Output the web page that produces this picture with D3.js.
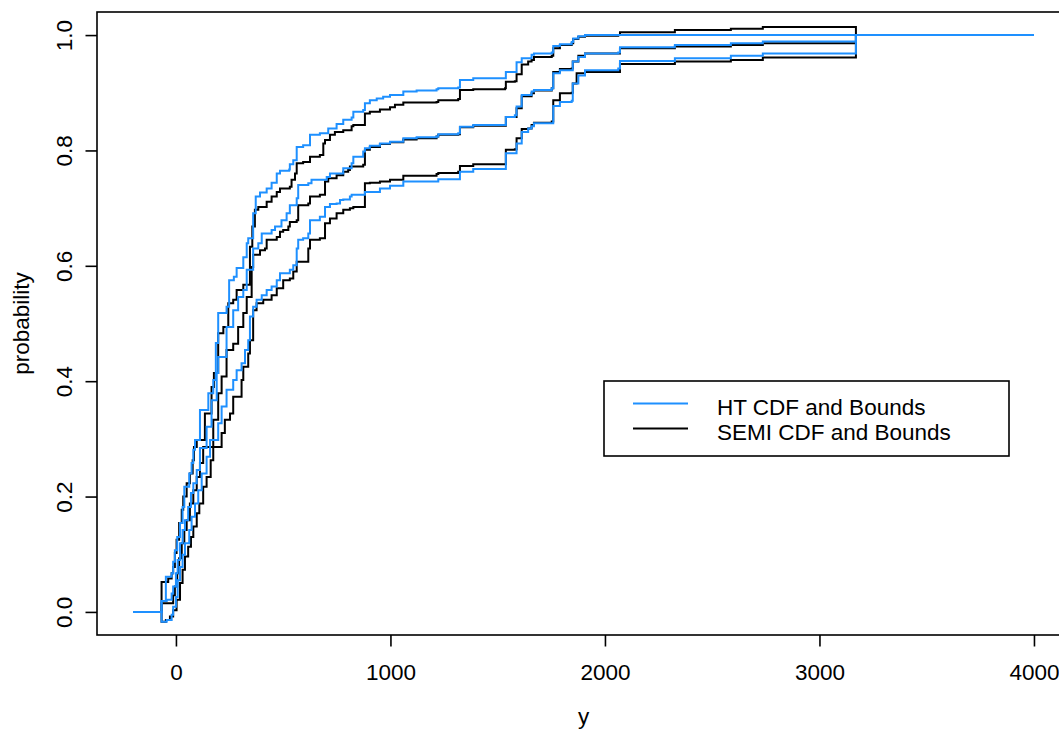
<!DOCTYPE html>
<html>
<head>
<meta charset="utf-8">
<script src="https://cdn.jsdelivr.net/npm/d3@7"></script>
<style>
  body { margin: 0; background: #fff; }
  text { font-family: "Liberation Sans", Arial, Helvetica, sans-serif; font-size: 22.5px; fill: #000; }
</style>
</head>
<body>
<svg id="canvas"></svg>
<script>
// step points [x, level after the jump]
let htUpper = [[-200,0],[-67,0.019],[-47,0.061],[-20,0.067],[-13,0.087],[-5,0.107],[6,0.130],[19,0.154],[31,0.182],[39,0.217],[62,0.240],[73,0.258],[81,0.281],[89,0.298],[112,0.350],[151,0.379],[174,0.402],[186,0.466],[197,0.518],[236,0.529],[248,0.575],[270,0.581],[283,0.596],[314,0.615],[330,0.639],[337,0.648],[360,0.691],[372,0.720],[392,0.727],[423,0.734],[446,0.744],[470,0.760],[485,0.765],[528,0.767],[531,0.776],[547,0.783],[563,0.806],[593,0.809],[625,0.827],[671,0.830],[710,0.838],[749,0.846],[780,0.853],[819,0.857],[827,0.867],[873,0.870],[881,0.882],[904,0.887],[936,0.890],[966,0.893],[998,0.896],[1060,0.902],[1122,0.904],[1215,0.906],[1223,0.908],[1316,0.909],[1324,0.922],[1386,0.925],[1538,0.936],[1588,0.953],[1612,0.960],[1658,0.966],[1669,0.968],[1752,0.970],[1759,0.981],[1790,0.984],[1845,0.988],[1852,0.994],[1876,0.998],[1907,1.000],[3170,1.000],[4000,1.000]];
let htCdf = [[-200,0],[-67,0.019],[-43,0.021],[-20,0.032],[-13,0.044],[0,0.067],[8,0.090],[19,0.119],[31,0.142],[42,0.159],[57,0.182],[70,0.206],[81,0.223],[97,0.246],[112,0.284],[143,0.321],[166,0.367],[190,0.414],[197,0.442],[236,0.494],[267,0.523],[290,0.546],[314,0.558],[330,0.593],[360,0.630],[384,0.639],[400,0.656],[446,0.662],[462,0.668],[492,0.679],[516,0.691],[531,0.705],[563,0.717],[570,0.740],[617,0.743],[632,0.749],[703,0.754],[718,0.760],[780,0.769],[819,0.778],[827,0.789],[873,0.798],[881,0.804],[904,0.808],[951,0.812],[998,0.815],[1060,0.821],[1122,0.823],[1215,0.824],[1223,0.828],[1316,0.830],[1324,0.841],[1386,0.844],[1538,0.858],[1580,0.861],[1588,0.876],[1612,0.896],[1658,0.902],[1669,0.905],[1752,0.908],[1759,0.934],[1790,0.939],[1850,0.954],[1876,0.962],[1907,0.968],[2062,0.970],[2070,0.979],[2326,0.983],[2587,0.986],[2736,0.989],[3170,1.000],[4000,1.000]];
let htLower = [[-200,0],[-67,-0.017],[-43,-0.014],[-20,-0.005],[-13,0.009],[0,0.026],[8,0.055],[19,0.078],[31,0.099],[42,0.119],[62,0.142],[73,0.165],[89,0.188],[104,0.211],[120,0.240],[143,0.269],[159,0.298],[197,0.327],[213,0.356],[236,0.385],[267,0.402],[283,0.419],[306,0.431],[322,0.454],[337,0.471],[345,0.512],[360,0.529],[376,0.541],[400,0.549],[423,0.558],[446,0.564],[470,0.575],[485,0.587],[531,0.593],[547,0.601],[563,0.630],[570,0.645],[593,0.648],[617,0.656],[625,0.679],[671,0.685],[695,0.702],[718,0.707],[749,0.708],[765,0.714],[780,0.715],[811,0.720],[819,0.723],[881,0.728],[951,0.734],[998,0.739],[1060,0.746],[1223,0.750],[1324,0.763],[1386,0.768],[1538,0.795],[1588,0.812],[1612,0.832],[1642,0.838],[1658,0.842],[1669,0.847],[1759,0.877],[1790,0.884],[1845,0.886],[1850,0.916],[1876,0.930],[1907,0.939],[2062,0.942],[2070,0.955],[2326,0.960],[2587,0.964],[2736,0.968],[3170,1.000],[4000,1.000]];

let semiUpper = [[-200,0],[-67,0.052],[-36,0.058],[-20,0.067],[-13,0.078],[-5,0.102],[3,0.125],[15,0.154],[27,0.177],[34,0.200],[50,0.223],[65,0.240],[78,0.263],[84,0.286],[97,0.298],[135,0.344],[166,0.390],[177,0.414],[197,0.483],[221,0.494],[244,0.535],[267,0.541],[283,0.558],[314,0.567],[345,0.633],[356,0.668],[368,0.697],[384,0.702],[423,0.711],[446,0.720],[470,0.728],[485,0.734],[531,0.737],[539,0.749],[555,0.760],[563,0.778],[593,0.780],[625,0.789],[671,0.792],[687,0.812],[695,0.818],[718,0.827],[741,0.832],[780,0.835],[819,0.842],[827,0.844],[881,0.864],[904,0.867],[951,0.871],[998,0.875],[1021,0.879],[1060,0.883],[1215,0.884],[1223,0.887],[1316,0.889],[1324,0.905],[1386,0.906],[1534,0.908],[1538,0.919],[1580,0.920],[1588,0.932],[1612,0.949],[1642,0.954],[1658,0.957],[1669,0.962],[1752,0.964],[1759,0.977],[1790,0.983],[1845,0.986],[1852,0.993],[1876,0.997],[1907,0.999],[2062,1.000],[2070,1.005],[2326,1.009],[2587,1.011],[2736,1.014],[3170,1.000],[4000,1.000]];
let semiCdf = [[-200,0],[-67,0.015],[-13,0.029],[-5,0.044],[6,0.067],[15,0.093],[27,0.119],[39,0.142],[50,0.159],[65,0.188],[81,0.211],[97,0.234],[112,0.258],[127,0.286],[174,0.333],[197,0.379],[213,0.408],[236,0.454],[267,0.465],[290,0.494],[314,0.518],[330,0.546],[353,0.598],[360,0.619],[392,0.627],[415,0.630],[423,0.645],[470,0.650],[485,0.659],[500,0.662],[524,0.668],[531,0.676],[563,0.679],[570,0.705],[617,0.708],[625,0.720],[671,0.723],[695,0.746],[710,0.752],[749,0.757],[780,0.763],[803,0.766],[811,0.772],[873,0.775],[881,0.801],[904,0.806],[951,0.811],[998,0.814],[1060,0.819],[1122,0.821],[1215,0.824],[1223,0.827],[1316,0.828],[1324,0.840],[1386,0.843],[1538,0.858],[1588,0.873],[1612,0.894],[1658,0.899],[1669,0.904],[1752,0.908],[1759,0.936],[1790,0.941],[1845,0.942],[1850,0.954],[1876,0.964],[1907,0.968],[2070,0.977],[2326,0.980],[2587,0.983],[2736,0.986],[3170,1.000],[4000,1.000]];
let semiLower = [[-200,0],[-67,-0.017],[-47,-0.014],[-28,-0.008],[-13,0.003],[3,0.021],[19,0.050],[31,0.073],[42,0.096],[57,0.113],[70,0.130],[81,0.148],[97,0.171],[109,0.188],[127,0.217],[143,0.234],[162,0.263],[174,0.286],[213,0.310],[228,0.333],[252,0.344],[267,0.373],[306,0.402],[314,0.425],[337,0.448],[345,0.471],[360,0.523],[376,0.535],[407,0.541],[446,0.549],[470,0.561],[500,0.575],[531,0.578],[547,0.590],[563,0.607],[617,0.630],[625,0.645],[671,0.648],[695,0.674],[718,0.682],[749,0.691],[780,0.697],[811,0.700],[827,0.702],[881,0.743],[904,0.744],[951,0.746],[998,0.749],[1060,0.756],[1215,0.759],[1223,0.761],[1316,0.763],[1324,0.773],[1386,0.776],[1538,0.801],[1580,0.802],[1588,0.821],[1612,0.837],[1642,0.838],[1658,0.844],[1669,0.848],[1752,0.850],[1759,0.887],[1790,0.899],[1845,0.900],[1850,0.916],[1868,0.934],[1907,0.936],[2070,0.950],[2326,0.954],[2587,0.957],[2736,0.961],[3170,1.000],[4000,1.000]];

let xTicks = [0, 1000, 2000, 3000, 4000];
let yTicks = [0, 0.2, 0.4, 0.6, 0.8, 1.0];
let legendLabels = ["HT CDF and Bounds", "SEMI CDF and Bounds"];
let legendColors = ["#1e90ff", "#000000"];

let width = 1059;
let height = 730;
let plotLeft = 97, plotTop = 12, plotBottom = 635, plotRight = 1070;
let lineWidth = 2;

let canvas = d3.select("#canvas");
canvas.attr("width", width).attr("height", height);

// R pads the data range by 4% on each side
let xLim = [-200, 4000];
let yLim = [0, 1];
let xPad = (xLim[1] - xLim[0]) * 0.04;
let yPad = (yLim[1] - yLim[0]) * 0.04;

let xScale = d3.scaleLinear()
               .domain([xLim[0] - xPad, xLim[1] + xPad])
               .range([plotLeft, plotRight]);
let yScale = d3.scaleLinear()
               .domain([yLim[0] - yPad, yLim[1] + yPad])
               .range([plotBottom, plotTop]);

let stepLine = d3.line()
                 .x((d) => xScale(d[0]))
                 .y((d) => yScale(d[1]))
                 .curve(d3.curveStepAfter);

let drawCurves = (list, color) => {
    canvas.append("g")
          .selectAll("path")
          .data(list)
          .enter()
          .append("path")
          .attr("d", (d) => stepLine(d))
          .attr("fill", "none")
          .attr("stroke", color)
          .attr("stroke-width", lineWidth);
}

drawCurves([semiUpper, semiCdf, semiLower], legendColors[1]);
drawCurves([htUpper, htCdf, htLower], legendColors[0]);

// frame
canvas.append("rect")
      .attr("x", plotLeft)
      .attr("y", plotTop)
      .attr("width", plotRight - plotLeft)
      .attr("height", plotBottom - plotTop)
      .attr("fill", "none")
      .attr("stroke", "#000")
      .attr("stroke-width", 1.6);

let xAxis = d3.axisBottom(xScale).tickValues(xTicks).tickSize(11.5).tickFormat(d3.format("d"));
let gx = canvas.append("g")
               .attr("transform", "translate(0, " + plotBottom + ")")
               .call(xAxis);
gx.select(".domain").remove();
gx.selectAll("line").attr("stroke-width", 1.6);
gx.selectAll("text")
  .attr("y", 45)
  .attr("dy", null)
  .style("font-size", "22.5px")
  .style("font-family", "Liberation Sans, Arial, sans-serif");

let yAxis = d3.axisLeft(yScale).tickValues(yTicks).tickSize(11.5).tickFormat(d3.format(".1f"));
let gy = canvas.append("g")
               .attr("transform", "translate(" + plotLeft + ", 0)")
               .call(yAxis);
gy.select(".domain").remove();
gy.selectAll("line").attr("stroke-width", 1.6);
gy.selectAll("text")
  .attr("x", 0)
  .attr("y", -25)
  .attr("dy", null)
  .attr("transform", "rotate(-90)")
  .attr("text-anchor", "middle")
  .style("font-size", "22.5px")
  .style("font-family", "Liberation Sans, Arial, sans-serif");

canvas.append("text")
      .attr("x", (plotLeft + plotRight) / 2)
      .attr("y", 724)
      .attr("text-anchor", "middle")
      .text("y");

canvas.append("text")
      .attr("transform", "translate(29, " + (plotTop + plotBottom) / 2 + ") rotate(-90)")
      .attr("text-anchor", "middle")
      .text("probability");

// legend
let legend = canvas.append("g").attr("transform", "translate(604, 381)");
legend.append("rect")
      .attr("width", 405)
      .attr("height", 75)
      .attr("fill", "#fff")
      .attr("stroke", "#000")
      .attr("stroke-width", 1.6);
legend.selectAll("line.key")
      .data(legendLabels)
      .enter()
      .append("line")
      .attr("class", "key")
      .attr("x1", 29)
      .attr("x2", 84)
      .attr("y1", (d, i) => 22.5 + i * 25)
      .attr("y2", (d, i) => 22.5 + i * 25)
      .attr("stroke", (d, i) => legendColors[i])
      .attr("stroke-width", lineWidth);
legend.selectAll("text")
      .data(legendLabels)
      .enter()
      .append("text")
      .attr("x", 113)
      .attr("y", (d, i) => 34 + i * 25)
      .text((d) => d);
</script>
</body>
</html>
